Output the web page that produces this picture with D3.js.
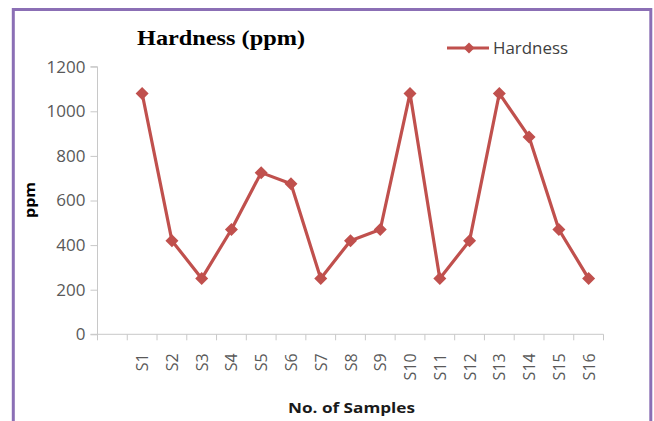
<!DOCTYPE html>
<html><head><meta charset="utf-8">
<script src="https://cdn.jsdelivr.net/npm/d3@7"></script>
<style>body{margin:0;background:#fff;}svg{display:block;}</style>
</head><body>
<svg id="c" width="654" height="421"></svg>
<script>
const categories = ["", "S1","S2","S3","S4","S5","S6","S7","S8","S9","S10","S11","S12","S13","S14","S15","S16"];
const hardness = [null, 1080, 420, 250, 470, 725, 675, 250, 420, 470, 1080, 250, 420, 1080, 885, 470, 250];
const yTicks = [0, 200, 400, 600, 800, 1000, 1200];

const svg = d3.select("#c");
const m = {left: 97.5, right: 603.5, top: 66.7, bottom: 334.3};
const sans = "'Open Sans', 'Liberation Sans', sans-serif";

// outer frame
svg.append("rect").attr("x", 13.3).attr("y", 9.5).attr("width", 637.5).attr("height", 420)
  .attr("fill", "none").attr("stroke", "#8B6FB5").attr("stroke-width", 3);

const x = d3.scaleBand().domain(categories.map((c,i)=>i)).range([m.left, m.right]).paddingInner(0).paddingOuter(0);
const y = d3.scaleLinear().domain([0, 1200]).range([m.bottom, m.top]);

// y axis
const ya = svg.append("g").attr("transform", `translate(${m.left},0)`)
  .call(d3.axisLeft(y).tickValues(yTicks).tickFormat(d3.format("d")).tickSize(7).tickPadding(5));
ya.select(".domain").attr("stroke", "#c8c8c8").attr("d", `M-7,${y(1200)}H0V${y(0)}`);
ya.selectAll(".tick line").attr("stroke", "#c8c8c8");
ya.selectAll("text").attr("fill", "#595959").style("font-family", sans).style("font-size", "17px");

// x axis
const xa = svg.append("g").attr("transform", `translate(0,${m.bottom})`);
xa.append("line").attr("x1", m.left - 7).attr("x2", m.right).attr("y1", 0).attr("y2", 0).attr("stroke", "#c8c8c8");
const bounds = d3.range(categories.length + 1).map(i => i < categories.length ? x(i) : x(categories.length-1) + x.bandwidth());
xa.selectAll(".xt").data(bounds).join("line").attr("class","xt")
  .attr("x1", d=>d).attr("x2", d=>d).attr("y1", 0).attr("y2", 6).attr("stroke", "#c8c8c8");
xa.selectAll(".xl").data(categories.map((c,i)=>({c,i})).filter(d=>d.c)).join("text").attr("class","xl")
  .attr("transform", d => `translate(${x(d.i) + x.bandwidth()/2 + 6},19) rotate(-90)`)
  .attr("text-anchor", "end")
  .attr("fill", "#595959").style("font-family", sans).style("font-size", "16px")
  .text(d => d.c);

// line
const pts = hardness.map((v,i)=>({v,i})).filter(d => d.v !== null);
const color = "#C0504D";
svg.append("path").datum(pts)
  .attr("d", d3.line().x(d => x(d.i) + x.bandwidth()/2).y(d => y(d.v)))
  .attr("fill", "none").attr("stroke", color).attr("stroke-width", 3.2).attr("stroke-linejoin", "round");
const diamond = "M0,-6.5L6.5,0L0,6.5L-6.5,0Z";
svg.selectAll(".pt").data(pts).join("path").attr("class","pt")
  .attr("transform", d => `translate(${x(d.i) + x.bandwidth()/2},${y(d.v)})`)
  .attr("d", diamond).attr("fill", color);

// title
svg.append("text").attr("x", 137).attr("y", 45)
  .attr("textLength", 168).attr("lengthAdjust", "spacingAndGlyphs")
  .style("font-family", "'Liberation Serif', 'Times New Roman', serif").style("font-weight", "bold").style("font-size", "21px")
  .attr("fill", "#000").text("Hardness (ppm)");

// legend
svg.append("line").attr("x1", 447).attr("x2", 489).attr("y1", 48).attr("y2", 48).attr("stroke", color).attr("stroke-width", 3.2);
svg.append("path").attr("transform", "translate(469,48)").attr("d", "M0,-5.5L5.5,0L0,5.5L-5.5,0Z").attr("fill", color);
svg.append("text").attr("x", 493).attr("y", 54).attr("fill", "#404040")
  .attr("textLength", 75).attr("lengthAdjust", "spacingAndGlyphs")
  .style("font-family", sans).style("font-size", "16px").text("Hardness");

// axis titles
svg.append("text").attr("transform", "translate(35,200) rotate(-90)").attr("text-anchor", "middle")
  .attr("textLength", 36).attr("lengthAdjust", "spacingAndGlyphs")
  .style("font-family", sans).style("font-weight", "bold").style("font-size", "14px")
  .attr("fill", "#000").text("ppm");
svg.append("text").attr("x", 351.5).attr("y", 413).attr("text-anchor", "middle")
  .attr("textLength", 127).attr("lengthAdjust", "spacingAndGlyphs")
  .style("font-family", sans).style("font-weight", "bold").style("font-size", "15px")
  .attr("fill", "#1a1a1a").text("No. of Samples");
</script>
</body></html>
